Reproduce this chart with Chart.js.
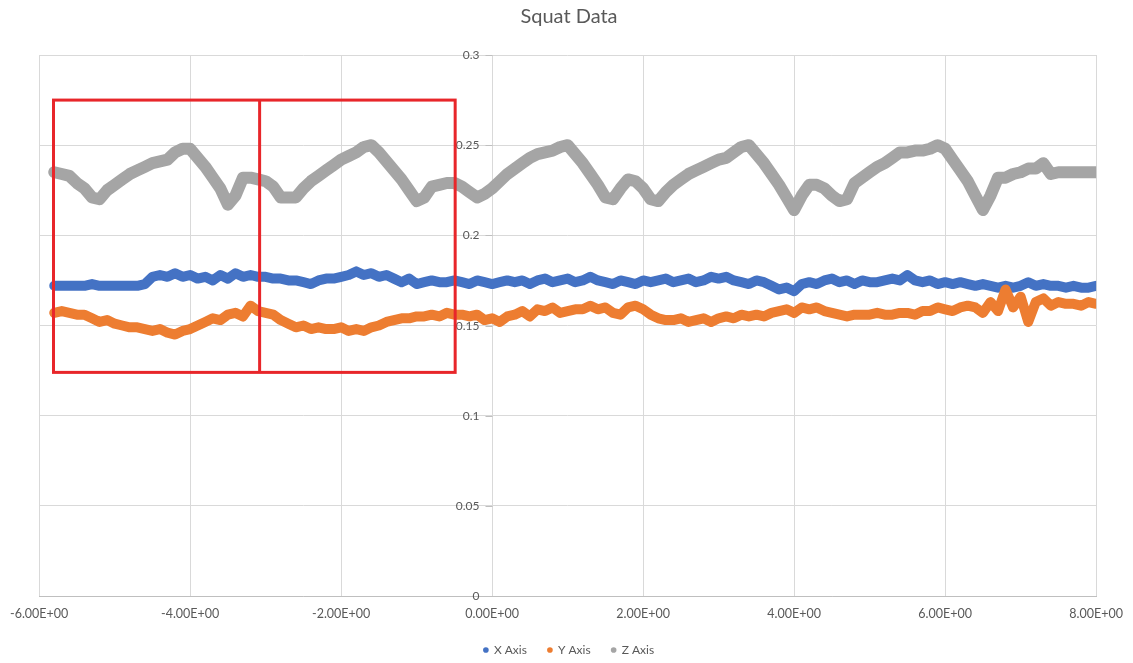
<!DOCTYPE html>
<html>
<head>
<meta charset="utf-8">
<title>Squat Data</title>
<script src="https://cdn.jsdelivr.net/npm/chart.js@4.4.1/dist/chart.umd.min.js"></script>
<style>
  body { margin: 0; background: #ffffff; }
  #wrap { width: 1133px; height: 663px; }
</style>
</head>
<body>
<div id="wrap"><canvas id="chart"></canvas></div>
<script>
// --- Data (sample every 0.1 along time) ---
const timeValues = [
  -5.8, -5.7, -5.6, -5.5, -5.4, -5.3, -5.2, -5.1, -5.0, -4.9,
  -4.8, -4.7, -4.6, -4.5, -4.4, -4.3, -4.2, -4.1, -4.0, -3.9,
  -3.8, -3.7, -3.6, -3.5, -3.4, -3.3, -3.2, -3.1, -3.0, -2.9,
  -2.8, -2.7, -2.6, -2.5, -2.4, -2.3, -2.2, -2.1, -2.0, -1.9,
  -1.8, -1.7, -1.6, -1.5, -1.4, -1.3, -1.2, -1.1, -1.0, -0.9,
  -0.8, -0.7, -0.6, -0.5, -0.4, -0.3, -0.2, -0.1, 0.0, 0.1,
  0.2, 0.3, 0.4, 0.5, 0.6, 0.7, 0.8, 0.9, 1.0, 1.1,
  1.2, 1.3, 1.4, 1.5, 1.6, 1.7, 1.8, 1.9, 2.0, 2.1,
  2.2, 2.3, 2.4, 2.5, 2.6, 2.7, 2.8, 2.9, 3.0, 3.1,
  3.2, 3.3, 3.4, 3.5, 3.6, 3.7, 3.8, 3.9, 4.0, 4.1,
  4.2, 4.3, 4.4, 4.5, 4.6, 4.7, 4.8, 4.9, 5.0, 5.1,
  5.2, 5.3, 5.4, 5.5, 5.6, 5.7, 5.8, 5.9, 6.0, 6.1,
  6.2, 6.3, 6.4, 6.5, 6.6, 6.7, 6.8, 6.9, 7.0, 7.1,
  7.2, 7.3, 7.4, 7.5, 7.6, 7.7, 7.8, 7.9, 8.0
];

const xAxisValues = [
  0.172, 0.172, 0.172, 0.172, 0.172, 0.173, 0.172, 0.172, 0.172, 0.172,
  0.172, 0.172, 0.173, 0.177, 0.178, 0.177, 0.179, 0.177, 0.178, 0.176,
  0.177, 0.175, 0.178, 0.176, 0.179, 0.177, 0.178, 0.177, 0.177, 0.176,
  0.176, 0.175, 0.175, 0.174, 0.173, 0.175, 0.176, 0.176, 0.177, 0.178,
  0.180, 0.178, 0.179, 0.177, 0.178, 0.176, 0.174, 0.176, 0.173, 0.174,
  0.175, 0.174, 0.174, 0.175, 0.174, 0.173, 0.175, 0.174, 0.173, 0.174,
  0.175, 0.174, 0.175, 0.173, 0.175, 0.176, 0.174, 0.175, 0.176, 0.174,
  0.175, 0.177, 0.175, 0.174, 0.173, 0.175, 0.174, 0.173, 0.175, 0.174,
  0.175, 0.176, 0.174, 0.175, 0.176, 0.174, 0.175, 0.177, 0.176, 0.177,
  0.175, 0.174, 0.173, 0.175, 0.174, 0.172, 0.170, 0.171, 0.169, 0.173,
  0.174, 0.173, 0.175, 0.176, 0.174, 0.175, 0.173, 0.175, 0.174, 0.174,
  0.175, 0.176, 0.175, 0.178, 0.175, 0.174, 0.175, 0.173, 0.174, 0.173,
  0.174, 0.173, 0.172, 0.173, 0.172, 0.171, 0.172, 0.171, 0.172, 0.174,
  0.172, 0.173, 0.172, 0.172, 0.171, 0.172, 0.171, 0.171, 0.172
];

const yAxisValues = [
  0.157, 0.158, 0.157, 0.156, 0.156, 0.154, 0.152, 0.153, 0.151, 0.150,
  0.149, 0.149, 0.148, 0.147, 0.148, 0.146, 0.145, 0.147, 0.148, 0.150,
  0.152, 0.154, 0.153, 0.156, 0.157, 0.155, 0.161, 0.158, 0.157, 0.156,
  0.153, 0.151, 0.149, 0.150, 0.148, 0.149, 0.148, 0.148, 0.149, 0.147,
  0.148, 0.147, 0.149, 0.150, 0.152, 0.153, 0.154, 0.154, 0.155, 0.155,
  0.156, 0.155, 0.157, 0.156, 0.156, 0.155, 0.156, 0.153, 0.154, 0.152,
  0.155, 0.156, 0.158, 0.155, 0.159, 0.158, 0.160, 0.157, 0.158, 0.159,
  0.159, 0.161, 0.159, 0.160, 0.157, 0.156, 0.160, 0.161, 0.159, 0.156,
  0.154, 0.153, 0.153, 0.154, 0.152, 0.153, 0.154, 0.152, 0.154, 0.155,
  0.154, 0.156, 0.155, 0.156, 0.155, 0.157, 0.158, 0.159, 0.157, 0.160,
  0.159, 0.160, 0.158, 0.157, 0.156, 0.155, 0.156, 0.156, 0.156, 0.157,
  0.156, 0.156, 0.157, 0.157, 0.156, 0.158, 0.158, 0.160, 0.159, 0.158,
  0.160, 0.161, 0.160, 0.157, 0.163, 0.158, 0.170, 0.160, 0.166, 0.152,
  0.163, 0.165, 0.161, 0.163, 0.162, 0.162, 0.161, 0.163, 0.162
];

const zAxisValues = [
  0.235, 0.234, 0.233, 0.229, 0.226, 0.221, 0.220, 0.225, 0.228, 0.231,
  0.234, 0.236, 0.238, 0.240, 0.241, 0.242, 0.246, 0.248, 0.248, 0.243,
  0.238, 0.232, 0.226, 0.217, 0.222, 0.232, 0.232, 0.231, 0.230, 0.227,
  0.221, 0.221, 0.221, 0.226, 0.230, 0.233, 0.236, 0.239, 0.242, 0.244,
  0.246, 0.249, 0.250, 0.246, 0.241, 0.236, 0.231, 0.225, 0.219, 0.221,
  0.227, 0.228, 0.229, 0.229, 0.227, 0.224, 0.221, 0.223, 0.226, 0.230,
  0.234, 0.237, 0.240, 0.243, 0.245, 0.246, 0.247, 0.249, 0.250, 0.245,
  0.240, 0.234, 0.228, 0.221, 0.220, 0.226, 0.231, 0.230, 0.226, 0.220,
  0.219, 0.224, 0.228, 0.231, 0.234, 0.236, 0.238, 0.240, 0.242, 0.243,
  0.246, 0.249, 0.250, 0.245, 0.240, 0.234, 0.228, 0.221, 0.214, 0.222,
  0.228, 0.228, 0.226, 0.222, 0.219, 0.220, 0.229, 0.232, 0.235, 0.238,
  0.240, 0.243, 0.246, 0.246, 0.247, 0.247, 0.248, 0.250, 0.248, 0.242,
  0.236, 0.230, 0.222, 0.214, 0.222, 0.232, 0.232, 0.234, 0.235, 0.237,
  0.237, 0.240, 0.234, 0.235, 0.235, 0.235, 0.235, 0.235, 0.235
];

const seriesNames = ["X Axis", "Y Axis", "Z Axis"];
const seriesColors = ["#4472C4", "#ED7D31", "#A5A5A5"];

const xTickValues = [-6, -4, -2, 0, 2, 4, 6, 8];
const xTickLabels = ["-6.00E+00", "-4.00E+00", "-2.00E+00", "0.00E+00", "2.00E+00", "4.00E+00", "6.00E+00", "8.00E+00"];
const yTickValues = [0, 0.05, 0.1, 0.15, 0.2, 0.25, 0.3];
const yTickLabels = ["0", "0.05", "0.1", "0.15", "0.2", "0.25", "0.3"];

// red highlight boxes drawn over the plot, in data units
const boxEdgesX = [-5.81, -3.08, -0.49];
const boxEdgesY = [0.124, 0.275];

const TEXT = "#595959";
const FONT = "Lato, 'Open Sans', sans-serif";

function toPoints(ys) {
  return timeValues.map((t, i) => ({ x: t, y: ys[i] }));
}

// y labels sit left of the vertical axis at x = 0 (Excel style), under the data
const yLabelPlugin = {
  id: "yLabels",
  beforeDatasetsDraw(chart) {
    const { ctx, scales } = chart;
    const axisX = Math.round(scales.x.getPixelForValue(0)) + 0.5;
    ctx.save();
    ctx.font = "12px " + FONT;
    ctx.fillStyle = TEXT;
    ctx.textAlign = "right";
    ctx.textBaseline = "middle";
    ctx.strokeStyle = "#BFBFBF";
    ctx.lineWidth = 1;
    yTickValues.forEach((v, i) => {
      const py = Math.round(scales.y.getPixelForValue(v)) + 0.5;
      ctx.beginPath();
      ctx.moveTo(axisX - 7, py);
      ctx.lineTo(axisX, py);
      ctx.stroke();
      ctx.fillText(yTickLabels[i], axisX - 13, py);
    });
    ctx.restore();
  }
};

// --- Red annotation boxes ---
const boxPlugin = {
  id: "redBoxes",
  afterDatasetsDraw(chart) {
    const { ctx, scales } = chart;
    const xs = boxEdgesX.map(v => scales.x.getPixelForValue(v));
    const yTop = scales.y.getPixelForValue(boxEdgesY[1]);
    const yBot = scales.y.getPixelForValue(boxEdgesY[0]);
    ctx.save();
    ctx.strokeStyle = "#E8262A";
    ctx.lineWidth = 3;
    ctx.strokeRect(xs[0], yTop, xs[2] - xs[0], yBot - yTop);
    ctx.beginPath();
    ctx.moveTo(xs[1], yTop);
    ctx.lineTo(xs[1], yBot);
    ctx.stroke();
    ctx.restore();
  }
};

const allSeries = [xAxisValues, yAxisValues, zAxisValues];

new Chart(document.getElementById("chart"), {
  type: "scatter",
  data: {
    datasets: allSeries.map((vals, i) => ({
      label: seriesNames[i],
      data: toPoints(vals),
      showLine: true,
      borderColor: seriesColors[i],
      backgroundColor: seriesColors[i],
      borderWidth: i === 2 ? 12 : 10,
      borderJoinStyle: "round",
      borderCapStyle: "round",
      pointRadius: 0,
      order: 3 - i // Z on top, then Y, then X
    }))
  },
  options: {
    responsive: true,
    maintainAspectRatio: false,
    animation: false,
    layout: { padding: { left: 38, right: 33, top: 0, bottom: -3 } },
    plugins: {
      title: {
        display: true,
        text: "Squat Data",
        color: TEXT,
        font: { family: FONT, size: 20, weight: "normal" },
        padding: { top: 5, bottom: 26 }
      },
      legend: {
        position: "bottom",
        labels: {
          usePointStyle: true,
          boxWidth: 4,
          boxHeight: 4,
          padding: 21,
          color: TEXT,
          font: { family: FONT, size: 12 },
          sort: (a, b) => a.datasetIndex - b.datasetIndex,
          generateLabels(chart) {
            const items = Chart.defaults.plugins.legend.labels.generateLabels(chart);
            return items.map(it => Object.assign(it, { lineWidth: 0, pointStyle: "circle" }));
          }
        }
      },
      tooltip: { enabled: false }
    },
    scales: {
      x: {
        type: "linear",
        min: -6,
        max: 8,
        afterBuildTicks(scale) {
          scale.ticks = xTickValues.map(v => ({ value: v }));
        },
        afterFit(scale) {
          scale.height -= 8; // let the plot reach down to the Excel position
        },
        ticks: {
          color: TEXT,
          font: { family: FONT, size: 12.5 },
          padding: 10,
          maxRotation: 0,
          callback: (v) => xTickLabels[xTickValues.indexOf(v)]
        },
        grid: { color: "#D9D9D9", drawTicks: false },
        border: { color: "#BFBFBF" }
      },
      y: {
        type: "linear",
        min: 0,
        max: 0.3,
        position: { x: 0 },
        afterBuildTicks(scale) {
          scale.ticks = yTickValues.map(v => ({ value: v }));
        },
        ticks: { display: false },
        grid: { color: "#D9D9D9", drawTicks: false },
        border: { display: false }
      }
    }
  },
  plugins: [yLabelPlugin, boxPlugin]
});
</script>
</body>
</html>
